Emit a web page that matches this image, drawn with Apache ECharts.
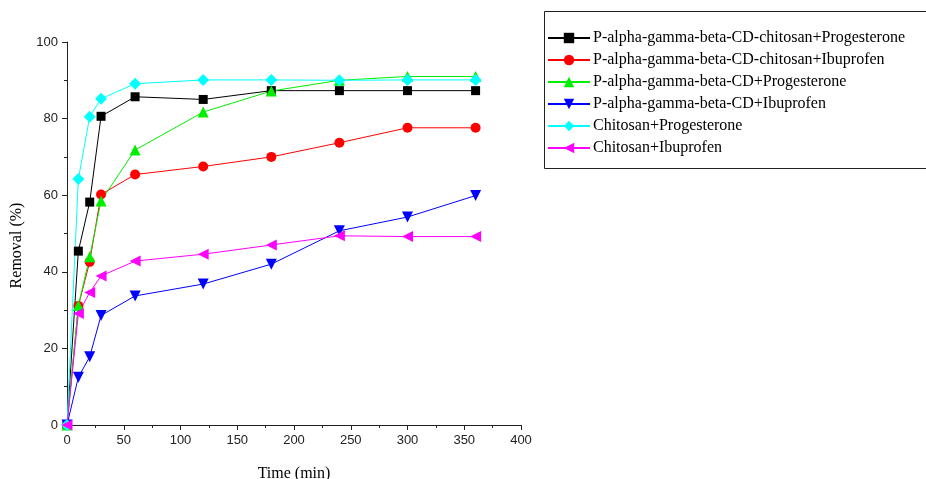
<!DOCTYPE html>
<html>
<head>
<meta charset="utf-8">
<script src="https://cdn.jsdelivr.net/npm/echarts@6/dist/echarts.min.js"></script>
<style>html,body{margin:0;padding:0;background:#fff;overflow:hidden;}#c{width:926px;height:479px;}</style>
</head>
<body>
<div id="c"></div>
<script>
const times = [0, 10, 20, 30, 60, 120, 180, 240, 300, 360];
const seriesNames = [
  'P-alpha-gamma-beta-CD-chitosan+Progesterone',
  'P-alpha-gamma-beta-CD-chitosan+Ibuprofen',
  'P-alpha-gamma-beta-CD+Progesterone',
  'P-alpha-gamma-beta-CD+Ibuprofen',
  'Chitosan+Progesterone',
  'Chitosan+Ibuprofen'
];
const pcsProg = [0, 45.4, 58.2, 80.6, 85.7, 85.0, 87.3, 87.3, 87.3, 87.3];
const pcsIbu  = [0, 31.1, 42.6, 60.2, 65.4, 67.5, 70.0, 73.7, 77.6, 77.6];
const pcdProg = [0, 31.2, 43.9, 58.5, 71.8, 81.7, 87.2, 90.0, 91.0, 91.0];
const pcdIbu  = [0, 12.5, 17.8, 28.6, 33.7, 36.8, 42.0, 50.7, 54.3, 59.9];
const csProg  = [0, 64.2, 80.5, 85.2, 89.1, 90.1, 90.1, 90.0, 90.1, 90.1];
const csIbu   = [0, 29.1, 34.6, 38.9, 42.8, 44.6, 47.0, 49.4, 49.2, 49.2];
const xTicks = [0, 50, 100, 150, 200, 250, 300, 350, 400];
const yTicks = [0, 20, 40, 60, 80, 100];

const allData = [pcsProg, pcsIbu, pcdProg, pcdIbu, csProg, csIbu];
const colors = ['#000000', '#ff0000', '#00ee00', '#0000ff', '#00ffff', '#ff00ff'];
const symbols = [
  'rect', 'circle', 'triangle',
  'path://M0,0 L10,0 L5,9 Z',
  'diamond',
  'path://M9,0 L9,10 L0,5 Z'
];
const sizes = [9, 10, 11, 11, 12, 11];

const chart = echarts.init(document.getElementById('c'), null, {renderer: 'canvas', width: 926, height: 479});
const axisLabelStyle = {fontFamily: 'Liberation Sans, Arial, sans-serif', fontSize: 13, color: '#222'};
chart.setOption({
  animation: false,
  backgroundColor: '#fff',
  grid: {left: 67, width: 454, top: 42, height: 383, containLabel: false, outerBoundsMode: 'none'},
  graphic: [{
    type: 'rect', shape: {x: 544.5, y: 11.5, width: 400, height: 157},
    style: {fill: 'none', stroke: '#222', lineWidth: 1}, z: 0
  }],
  legend: {
    orient: 'vertical', left: 542, top: 25,
    itemWidth: 42, itemHeight: 13, itemGap: 6,
    textStyle: {fontFamily: 'Liberation Serif, Times New Roman, serif', fontSize: 16, color: '#000', padding: [0, 0, 0, -2]},
    data: seriesNames
  },
  xAxis: {
    type: 'value', min: 0, max: 400, interval: 50,
    name: 'Time (min)', nameLocation: 'middle', nameGap: 41,
    nameTextStyle: {fontFamily: 'Liberation Serif, Times New Roman, serif', fontSize: 16, color: '#000'},
    axisLine: {show: true, lineStyle: {color: '#222', width: 1}},
    axisTick: {show: true, inside: false, length: 5, lineStyle: {color: '#222'}},
    minorTick: {show: true, splitNumber: 2, length: 3, lineStyle: {color: '#222'}},
    axisLabel: Object.assign({margin: 9}, axisLabelStyle),
    splitLine: {show: false}
  },
  yAxis: {
    type: 'value', min: 0, max: 100, interval: 20,
    name: 'Removal (%)', nameLocation: 'middle', nameGap: 42, nameRotate: 90,
    nameTextStyle: {fontFamily: 'Liberation Serif, Times New Roman, serif', fontSize: 16, color: '#000', padding: [0, 24, 0, 0]},
    axisLine: {show: true, lineStyle: {color: '#222', width: 1}},
    axisTick: {show: true, inside: false, length: 5, lineStyle: {color: '#222'}},
    minorTick: {show: true, splitNumber: 2, length: 3, lineStyle: {color: '#222'}},
    axisLabel: Object.assign({margin: 9}, axisLabelStyle),
    splitLine: {show: false}
  },
  series: allData.map((d, i) => ({
    name: seriesNames[i],
    type: 'line',
    data: times.map((t, j) => [t, d[j]]),
    symbol: symbols[i],
    symbolSize: sizes[i],
    showAllSymbol: true,
    lineStyle: {color: colors[i], width: 1},
    itemStyle: {color: colors[i], borderWidth: 0},
    emphasis: {disabled: true}
  }))
});
</script>
</body>
</html>
